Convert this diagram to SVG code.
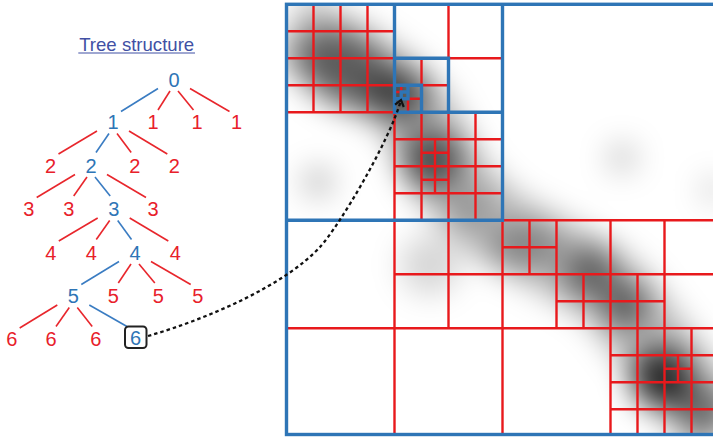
<svg xmlns="http://www.w3.org/2000/svg" width="713" height="437" viewBox="0 0 713 437">
  <defs>
    <style>
      .t { font-family: "Liberation Sans", Arial, sans-serif; font-size: 20px; text-anchor: middle; }
      .tb { fill: #2e75b6; }
      .tr { fill: #e8202a; }
      .eb { stroke: #3a7cc2; stroke-width: 1.6; fill: none; }
      .er { stroke: #e8262c; stroke-width: 1.6; fill: none; }
      .gr { stroke: #e8191c; stroke-width: 2.4; fill: none; stroke-linecap: square; }
      .gb { stroke: #2e75b6; stroke-width: 3.4; fill: none; stroke-linecap: square; }
      .blob { fill: #000; }
    </style>
    <clipPath id="rootclip">
      <rect x="286.5" y="4.3" width="432" height="430.2"/>
    </clipPath>
    <filter id="soft" x="-20%" y="-20%" width="140%" height="140%">
      <feGaussianBlur stdDeviation="15"/>
    </filter>
    <marker id="arrow" markerWidth="12" markerHeight="12" refX="0" refY="0" viewBox="-8 -6 10 12" orient="auto" markerUnits="userSpaceOnUse">
      <path d="M-6,-4.5 L0,0 L-6,4.5" fill="none" stroke="#111" stroke-width="2.2"/>
    </marker>
  </defs>

  <rect x="0" y="0" width="713" height="437" fill="#ffffff"/>

  <!-- Title -->
  <g id="title">
    <text x="136.7" y="50.5" style="font-family:'Liberation Sans', Arial, sans-serif; font-size:18.6px; text-anchor:middle; fill:#4150a4;">Tree structure</text>
    <line x1="78.3" y1="53" x2="195" y2="53" stroke="#4150a4" stroke-width="1.2"/>
  </g>

  <!-- Quadtree panel -->
  <g id="quadtree">
    <rect x="286.5" y="4.3" width="432" height="430.2" fill="#ffffff"/>
    <g id="density" clip-path="url(#rootclip)">
      <g filter="url(#soft)">
        <path d="M290,28 C340,55 390,80 420,120 C440,160 450,190 500,228 C540,252 590,270 620,300 C650,340 680,380 725,435" fill="none" stroke="#000" stroke-opacity="0.28" stroke-width="75"/>
        <ellipse class="blob" cx="345" cy="70" rx="52" ry="36" fill-opacity="0.5" transform="rotate(30 345 70)"/>
        <circle class="blob" cx="400" cy="95" r="27" fill-opacity="0.6"/>
        <circle class="blob" cx="432" cy="160" r="30" fill-opacity="0.6"/>
        <circle class="blob" cx="470" cy="208" r="20" fill-opacity="0.22"/>
        <ellipse class="blob" cx="525" cy="245" rx="35" ry="22" fill-opacity="0.3"/>
        <circle class="blob" cx="590" cy="272" r="26" fill-opacity="0.48"/>
        <circle class="blob" cx="625" cy="305" r="22" fill-opacity="0.55"/>
        <circle class="blob" cx="662" cy="378" r="30" fill-opacity="0.8"/>
        <circle class="blob" cx="702" cy="410" r="24" fill-opacity="0.45"/>
        <circle class="blob" cx="318" cy="182" r="15" fill-opacity="0.25"/>
        <circle class="blob" cx="622" cy="158" r="15" fill-opacity="0.2"/>
        <circle class="blob" cx="430" cy="265" r="30" fill-opacity="0.16"/>
        <circle class="blob" cx="713" cy="190" r="13" fill-opacity="0.16"/>
      </g>
    </g>
    <g id="grid" clip-path="url(#rootclip)">
      <g transform="translate(286.5 4.3) scale(6.75)">
        <path class="gr" vector-effect="non-scaling-stroke" d="M4 0V16M8 0V16M12 0V16M0 4H16M0 8H16M0 12H16M0 16H16M16 16V32
          M24 0V8M24 8H32M20 8V12M20 12H24M18 14V16M18 14H20M17 12V13M16 13H17
          M20 16V32M24 16V32M28 16V32M16 20H32M16 24H32M16 28H32M22 20V28M20 22H24M20 26H24
          M32 32V64M0 48H32M16 32V64M24 32V48M16 40H32
          M32 32H64M48 32V64M32 48H64M40 32V48M32 40H48M36 32V40M32 36H40M44 40V48M40 44H48
          M56 32V48M48 40H64M52 40V48M48 44H56
          M52 48V64M56 48V64M60 48V64M48 52H64M48 56H64M48 60H64M58 52V56M56 54H60"/>
        <path class="gb" vector-effect="non-scaling-stroke" d="M32 0V32M0 32H32M16 0V16M16 16H32M16 8H24M24 8V16M16 12H20M20 12V16M16 14H18M18 12V14M17 13H18M17 13V14"/>
      </g>
    </g>
    <rect class="gb" x="286.5" y="4.3" width="432" height="430.2"/>
  </g>

  <!-- Tree connectors -->
  <g id="connectors">
    <line class="eb" x1="158" y1="88.5" x2="121" y2="111.5"/>
    <line class="er" x1="170" y1="91" x2="158" y2="110"/>
    <line class="er" x1="178" y1="91" x2="193.5" y2="110"/>
    <line class="er" x1="190" y1="88.5" x2="229.5" y2="111.5"/>

    <line class="er" x1="97" y1="131" x2="58.5" y2="154"/>
    <line class="eb" x1="109" y1="133.5" x2="96" y2="152.5"/>
    <line class="er" x1="117" y1="133.5" x2="131.2" y2="152.5"/>
    <line class="er" x1="129" y1="131" x2="167.3" y2="154"/>

    <line class="er" x1="75" y1="174.5" x2="36.7" y2="197.5"/>
    <line class="er" x1="87" y1="177" x2="73.7" y2="196"/>
    <line class="eb" x1="95" y1="177" x2="110.2" y2="196"/>
    <line class="er" x1="107" y1="174.5" x2="146" y2="197.5"/>

    <line class="er" x1="97.7" y1="218" x2="58.8" y2="241"/>
    <line class="er" x1="109.7" y1="220.5" x2="96.3" y2="239.5"/>
    <line class="eb" x1="117.7" y1="220.5" x2="131.5" y2="239.5"/>
    <line class="er" x1="129.7" y1="218" x2="168.3" y2="241"/>

    <line class="eb" x1="119" y1="261.5" x2="81.3" y2="284.5"/>
    <line class="er" x1="131" y1="264" x2="118.3" y2="283"/>
    <line class="er" x1="139" y1="264" x2="154.8" y2="283"/>
    <line class="er" x1="151" y1="261.5" x2="190.7" y2="284.5"/>

    <line class="er" x1="57.3" y1="305" x2="19.7" y2="328"/>
    <line class="er" x1="69.3" y1="307.5" x2="56" y2="326.5"/>
    <line class="er" x1="77.3" y1="307.5" x2="92.2" y2="326.5"/>
    <line class="eb" x1="89.3" y1="305" x2="127" y2="326.5"/>

    <path id="link" d="M148,336 C210,318 285,285 320,247 C340,225 390,140 401,100" fill="none" stroke="#111" stroke-width="2.3" stroke-dasharray="3.5 3" marker-end="url(#arrow)"/>
  </g>

  <!-- Tree nodes -->
  <g id="n0"><text class="t tb" x="174" y="86.5">0</text></g>

  <g id="n1a"><text class="t tb" x="113" y="129">1</text></g>
  <g id="n1b"><text class="t tr" x="153" y="129">1</text></g>
  <g id="n1c"><text class="t tr" x="197" y="129">1</text></g>
  <g id="n1d"><text class="t tr" x="236.5" y="129">1</text></g>

  <g id="n2a"><text class="t tr" x="50.5" y="172.5">2</text></g>
  <g id="n2b"><text class="t tb" x="91" y="172.5">2</text></g>
  <g id="n2c"><text class="t tr" x="134.7" y="172.5">2</text></g>
  <g id="n2d"><text class="t tr" x="174.3" y="172.5">2</text></g>

  <g id="n3a"><text class="t tr" x="28.7" y="216">3</text></g>
  <g id="n3b"><text class="t tr" x="68.7" y="216">3</text></g>
  <g id="n3c"><text class="t tb" x="113.7" y="216">3</text></g>
  <g id="n3d"><text class="t tr" x="153" y="216">3</text></g>

  <g id="n4a"><text class="t tr" x="50.8" y="259.5">4</text></g>
  <g id="n4b"><text class="t tr" x="91.3" y="259.5">4</text></g>
  <g id="n4c"><text class="t tb" x="135" y="259.5">4</text></g>
  <g id="n4d"><text class="t tr" x="175.3" y="259.5">4</text></g>

  <g id="n5a"><text class="t tb" x="73.3" y="303">5</text></g>
  <g id="n5b"><text class="t tr" x="113.3" y="303">5</text></g>
  <g id="n5c"><text class="t tr" x="158.3" y="303">5</text></g>
  <g id="n5d"><text class="t tr" x="197.7" y="303">5</text></g>

  <g id="n6a"><text class="t tr" x="11.7" y="345.5">6</text></g>
  <g id="n6b"><text class="t tr" x="51" y="345.5">6</text></g>
  <g id="n6c"><text class="t tr" x="95.7" y="345.5">6</text></g>
  <g id="n6d">
    <rect x="125" y="326.5" width="21.5" height="21.5" rx="3.5" fill="#ffffff" stroke="#222" stroke-width="2"/>
    <text class="t tb" x="135.5" y="345">6</text>
  </g>
</svg>
